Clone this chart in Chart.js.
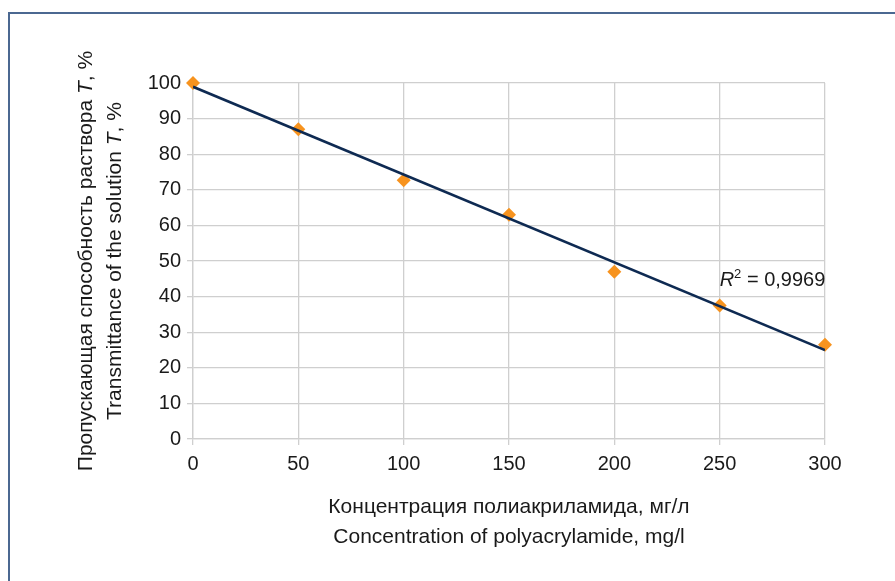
<!DOCTYPE html>
<html>
<head>
<meta charset="utf-8">
<title>Transmittance vs polyacrylamide concentration</title>
<script src="https://cdn.jsdelivr.net/npm/chart.js@4.4.1/dist/chart.umd.min.js"></script>
<style>
    html, body { margin: 0; padding: 0; background: #ffffff; overflow: hidden; }
    #wrap { position: relative; width: 895px; height: 581px; }
    #frame {
        position: absolute; left: 8px; top: 12px; width: 900px; height: 600px;
        border-left: 2px solid #4b6891; border-top: 2px solid #4b6891;
        pointer-events: none;
    }
    canvas { position: absolute; left: 0; top: 0; }
</style>
</head>
<body>
<div id="wrap">
    <canvas id="chart" width="895" height="581"></canvas>
    <div id="frame"></div>
</div>
<script>
// ---- data ----
const concentrations = [0, 50, 100, 150, 200, 250, 300];      // mg/l
const transmittance = [100, 87, 72.7, 63, 47, 37.5, 26.5];      // %
const xTicks = [0, 50, 100, 150, 200, 250, 300];
const yTicks = [0, 10, 20, 30, 40, 50, 60, 70, 80, 90, 100];
const rSquaredLabel = '0,9969';
const rSquaredAt = [250, 43];   // where the label sits, in data units

const xTitleLines = [
    [['Концентрация полиакриламида, мг/л', false]],
    [['Concentration of polyacrylamide, mg/l', false]]
];
const yTitleLines = [
    [['Пропускающая способность раствора ', false], ['T', true], [', %', false]],
    [['Transmittance of the solution ', false], ['T', true], [', %', false]]
];

const FONT = '"Liberation Sans", Arial, sans-serif';
const TEXT = '#1a1a1a';
const GRID = '#cfcfcf';

/**
 * Least squares line through the measured points (Excel linear trendline)
 */
function linearFit(xs, ys) {
    const n = xs.length;
    const mx = xs.reduce((a, b) => a + b, 0) / n;
    const my = ys.reduce((a, b) => a + b, 0) / n;
    let sxy = 0, sxx = 0;
    for (let i = 0; i < n; i++) {
        sxy += (xs[i] - mx) * (ys[i] - my);
        sxx += (xs[i] - mx) * (xs[i] - mx);
    }
    const slope = sxy / sxx;
    return { slope: slope, intercept: my - slope * mx };
}

const fit = linearFit(concentrations, transmittance);
const xMin = xTicks[0], xMax = xTicks[xTicks.length - 1];
const trendPoints = [xMin, xMax].map(x => ({ x: x, y: fit.intercept + fit.slope * x }));
const measuredPoints = concentrations.map((x, i) => ({ x: x, y: transmittance[i] }));

// Draw a line made of plain / italic pieces, centred on (0,0) of current transform
function drawRichLine(ctx, parts, size) {
    const fontFor = italic => (italic ? 'italic ' : '') + size + 'px ' + FONT;
    let total = 0;
    parts.forEach(p => { ctx.font = fontFor(p[1]); total += ctx.measureText(p[0]).width; });
    let x = -total / 2;
    parts.forEach(p => {
        ctx.font = fontFor(p[1]);
        ctx.fillText(p[0], x, 0);
        x += ctx.measureText(p[0]).width;
    });
}

const labelsPlugin = {
    id: 'labelsPlugin',
    afterDraw(chart) {
        const { ctx, chartArea, scales } = chart;
        ctx.save();
        ctx.fillStyle = TEXT;
        ctx.textBaseline = 'middle';
        ctx.textAlign = 'left';

        // x axis title, two lines
        const cx = (chartArea.left + chartArea.right) / 2;
        xTitleLines.forEach((line, i) => {
            ctx.save();
            ctx.translate(cx, chartArea.bottom + 68 + i * 30);
            drawRichLine(ctx, line, 21);
            ctx.restore();
        });

        // y axis title, two rotated lines
        const cy = (chartArea.top + chartArea.bottom) / 2;
        yTitleLines.forEach((line, i) => {
            ctx.save();
            ctx.translate(86 + i * 29, cy);
            ctx.rotate(-Math.PI / 2);
            drawRichLine(ctx, line, 21);
            ctx.restore();
        });

        // R^2 label next to the trend line
        const px = scales.x.getPixelForValue(rSquaredAt[0]);
        const py = scales.y.getPixelForValue(rSquaredAt[1]);
        ctx.textBaseline = 'alphabetic';
        ctx.font = 'italic 20px ' + FONT;
        ctx.fillText('R', px, py);
        let w = ctx.measureText('R').width;
        ctx.font = '13px ' + FONT;
        ctx.fillText('2', px + w, py - 8);
        w += ctx.measureText('2').width;
        ctx.font = '20px ' + FONT;
        ctx.fillText(' = ' + rSquaredLabel, px + w, py);
        ctx.restore();
    }
};

new Chart(document.getElementById('chart'), {
    type: 'scatter',
    data: {
        datasets: [{
            label: 'T',
            data: measuredPoints,
            pointStyle: 'rectRot',
            pointRadius: 7,
            pointHoverRadius: 7,
            backgroundColor: '#f7931e',
            borderColor: '#f7931e',
            borderWidth: 0,
            clip: false,
            order: 1
        }, {
            label: 'trend',
            type: 'line',
            data: trendPoints,
            borderColor: '#0e2a52',
            borderWidth: 2.6,
            pointRadius: 0,
            fill: false,
            order: 0
        }]
    },
    options: {
        responsive: false,
        animation: false,
        layout: { padding: { top: 83, right: 70, left: 0, bottom: 0 } },
        plugins: {
            legend: { display: false },
            tooltip: { enabled: false }
        },
        scales: {
            x: {
                type: 'linear',
                min: xMin,
                max: xMax,
                afterBuildTicks: axis => { axis.ticks = xTicks.map(v => ({ value: v })); },
                afterFit: axis => { axis.height = 142; },
                grid: { color: GRID, tickLength: 6, lineWidth: 1.3 },
                border: { color: GRID, width: 1.3 },
                ticks: { color: TEXT, font: { family: FONT, size: 20 }, padding: 7, maxRotation: 0 }
            },
            y: {
                min: yTicks[0],
                max: yTicks[yTicks.length - 1],
                afterBuildTicks: axis => { axis.ticks = yTicks.map(v => ({ value: v })); },
                afterFit: axis => { axis.width = 193; },
                grid: { color: GRID, tickLength: 6, lineWidth: 1.3 },
                border: { color: GRID, width: 1.3 },
                ticks: { color: TEXT, font: { family: FONT, size: 20 }, padding: 6 }
            }
        }
    },
    plugins: [labelsPlugin]
});
</script>
</body>
</html>
